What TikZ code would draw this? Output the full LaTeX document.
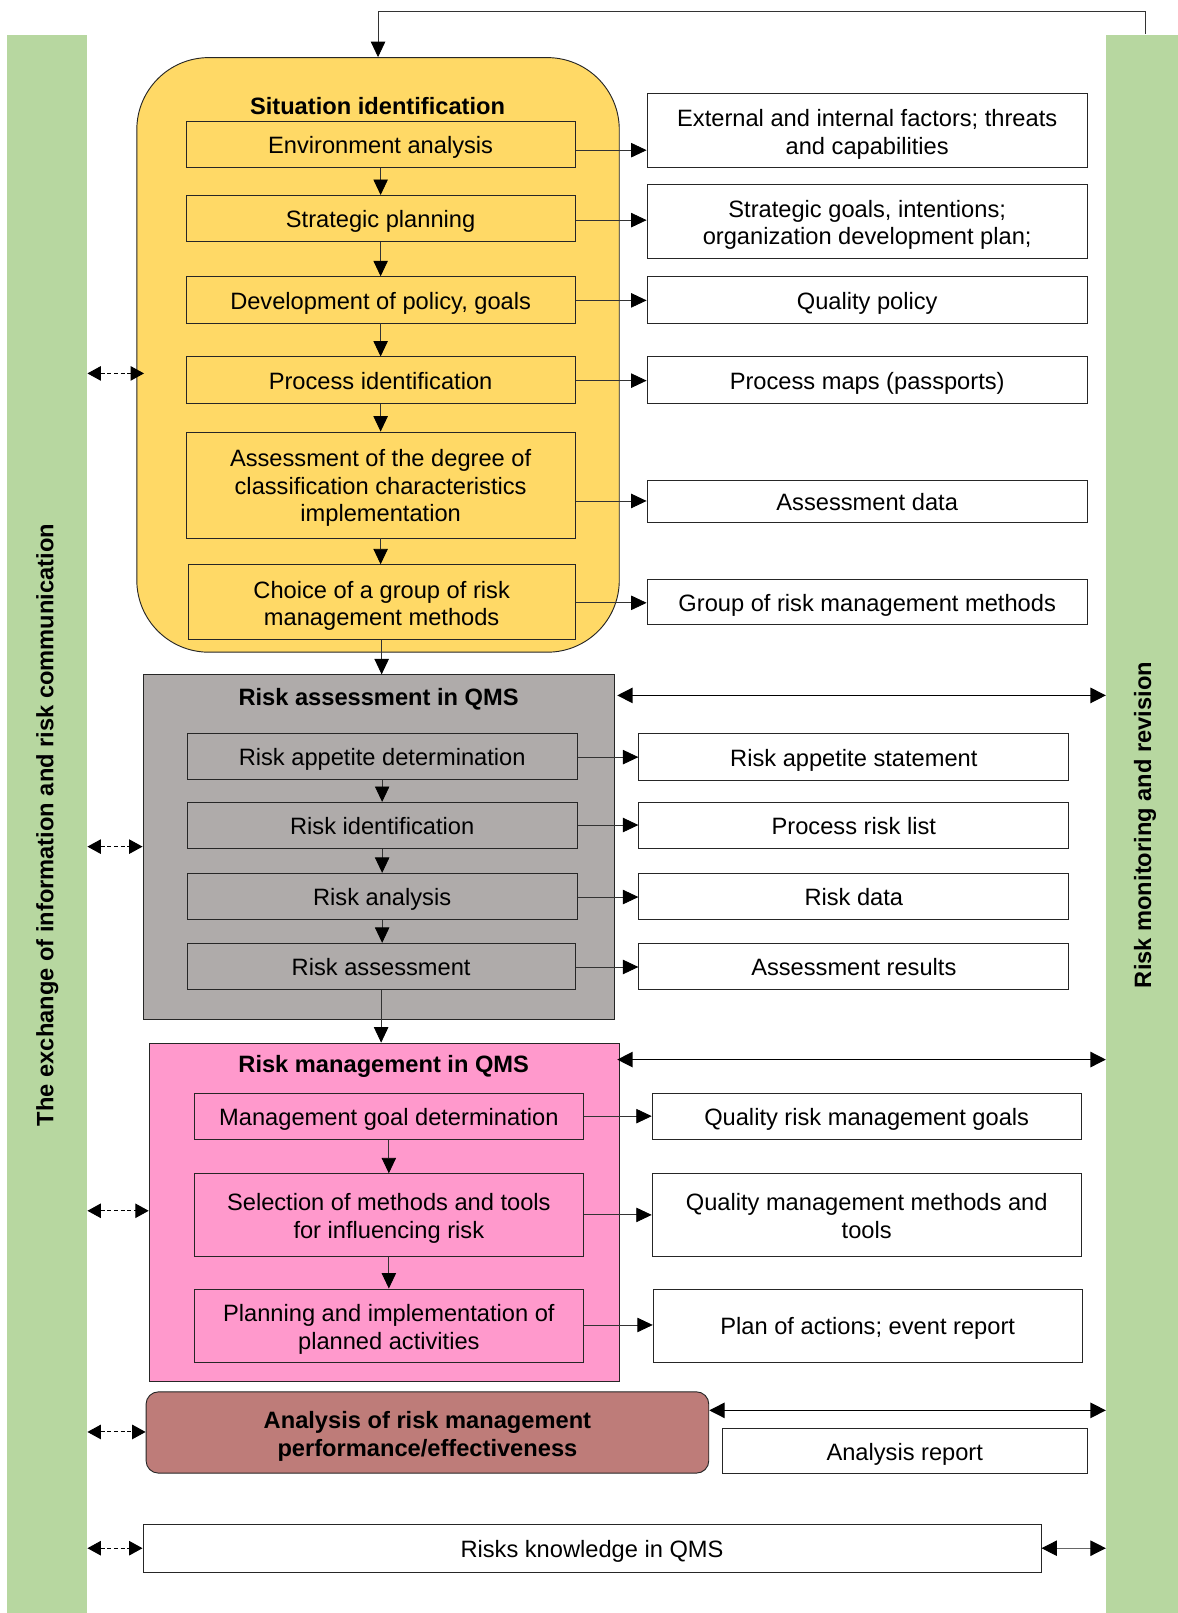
\documentclass[tikz,border=0pt]{standalone}
\usepackage{fontspec}
\setmainfont{Liberation Sans}
\usetikzlibrary{arrows.meta,calc}
\definecolor{ylw}{RGB}{255,217,102}
\definecolor{gry}{RGB}{175,171,170}
\definecolor{pnk}{RGB}{255,153,204}
\definecolor{brn}{RGB}{190,124,121}
\definecolor{grn}{RGB}{183,215,160}
\newcommand\fsz{\fontsize{23}{26.8}\selectfont}
\begin{document}
\begin{tikzpicture}[x=1pt,y=-1pt,font=\fsz,
  box/.style={draw=black!85,line width=0.9pt,rectangle,inner sep=0pt,align=center,font=\fsz,
    execute at begin node={\rule{0pt}{1em}},execute at end node={\rule[-0.22em]{0pt}{0pt}}},
  mltwo/.style={text height=50.8pt,text depth=5pt},
  mlthree/.style={text height=76.6pt,text depth=5pt},
  sz/.style 2 args={minimum width=#1,minimum height=#2},
  ttl/.style={inner sep=0pt,font=\fsz\bfseries},
  arr/.style={line width=0.8pt,draw=black!80,-{Triangle[length=15pt,width=14pt,color=black,fill=black]}},
  darr/.style={line width=1.3pt,{Triangle[length=15pt,width=15pt]}-{Triangle[length=15pt,width=15pt]}},
  dsh/.style={line width=1pt,dash pattern=on 4pt off 2.5pt,{Triangle[length=13pt,width=14pt]}-{Triangle[length=13pt,width=14pt]}},
  bar/.style={fill=grn,rotate=90,inner sep=0pt,font=\fsz\bfseries}]
\useasboundingbox (0,0) rectangle (1145,1568);
\fill[white] (0,0) rectangle (1145,1568);

% side bars
\node[bar,sz={1535}{78}] (lbar) at (46,802) {The exchange of information and risk communication};
\node[bar,sz={1535}{76}] (rbar) at (1113,802) {Risk monitoring and revision};
\coordinate (lbr) at (85,0);
\coordinate (rbl) at (1075,0);
\coordinate (fb) at (1113,33);

% situation identification
\node[box,fill=ylw,rounded corners=70pt,sz={469}{578}] (sit) at (367.5,345) {};
\node[ttl] (sitt) at (367,103) {Situation identification};
\node[box,fill=ylw,sz={378}{45}] (env) at (370,140.5) {Environment analysis};
\node[box,fill=ylw,sz={378}{45}] (strat) at (370,212.5) {Strategic planning};
\node[box,fill=ylw,sz={378}{45}] (dev) at (370,291.5) {Development of policy, goals};
\node[box,fill=ylw,sz={378}{45}] (proc) at (370,369.5) {Process identification};
\node[box,mlthree,fill=ylw,sz={378}{103}] (asd) at (370,471.5) {Assessment of the degree of\\classification characteristics\\implementation};
\node[box,mltwo,fill=ylw,sz={376}{73}] (choice) at (371,585.5) {Choice of a group of risk\\management methods};

\node[box,mltwo,fill=white,sz={428}{72}] (ext) at (843,127) {External and internal factors; threats\\and capabilities};
\node[box,mltwo,fill=white,sz={428}{72}] (sgoal) at (843,215) {Strategic goals, intentions;\\organization development plan;};
\node[box,fill=white,sz={428}{45}] (qpol) at (843,291.5) {Quality policy};
\node[box,fill=white,sz={428}{45}] (pmap) at (843,369.5) {Process maps (passports)};
\node[box,fill=white,sz={428}{41}] (adata) at (843,487.5) {Assessment data};
\node[box,fill=white,sz={428}{44}] (grp) at (843,585) {Group of risk management methods};

\draw[arr] (env) -- (strat);
\draw[arr] (strat) -- (dev);
\draw[arr] (dev) -- (proc);
\draw[arr] (proc) -- (asd);
\draw[arr] (asd.south) -- (asd.south |- choice.north);
\draw[arr] (env.east |- 0,146) -- (ext.west |- 0,146);
\draw[arr] (strat.east |- 0,214) -- (sgoal.west |- 0,214);
\draw[arr] (dev.east |- 0,292) -- (qpol.west |- 0,292);
\draw[arr] (proc.east |- 0,370) -- (pmap.west |- 0,370);
\draw[arr] (asd.east |- 0,487) -- (adata.west |- 0,487);
\draw[arr] (choice.east |- 0,586) -- (grp.west |- 0,586);

% feedback loop
\draw[arr] (fb) -- ++(0,-22) -| (sit.north);

% risk assessment
\node[box,fill=gry,sz={458}{335}] (ra) at (368,823.5) {};
\node[ttl] (rat) at (368,680) {Risk assessment in QMS};
\node[box,fill=gry,sz={379}{45}] (rad) at (371.5,735.5) {Risk appetite determination};
\node[box,fill=gry,sz={379}{45}] (rid) at (371.5,802.5) {Risk identification};
\node[box,fill=gry,sz={379}{45}] (ran) at (371.5,871.5) {Risk analysis};
\node[box,fill=gry,sz={377}{45}] (ras) at (370.5,939.5) {Risk assessment};

\node[box,fill=white,sz={418}{46}] (ras1) at (830,736) {Risk appetite statement};
\node[box,fill=white,sz={418}{45}] (prl) at (830,802.5) {Process risk list};
\node[box,fill=white,sz={418}{45}] (rdat) at (830,871.5) {Risk data};
\node[box,fill=white,sz={418}{45}] (ares) at (830,939.5) {Assessment results};

\draw[arr] (choice.south) -- (choice.south |- ra.north);
\draw[arr] (rad) -- (rid);
\draw[arr] (rid) -- (ran);
\draw[arr] (ran.south) -- (ran.south |- ras.north);
\draw[arr] (rad.east |- 0,736) -- (ras1.west |- 0,736);
\draw[arr] (rid.east |- 0,802) -- (prl.west |- 0,802);
\draw[arr] (ran.east |- 0,872) -- (rdat.west |- 0,872);
\draw[arr] (ras.east |- 0,940) -- (ares.west |- 0,940);
\draw[darr] (600,676) -- (rbl |- 0,676);

% risk management
\node[box,fill=pnk,sz={457}{329}] (rm) at (373.5,1178.5) {};
\node[ttl] (rmt) at (373,1037) {Risk management in QMS};
\node[box,fill=pnk,sz={378}{45}] (mgd) at (378,1085.5) {Management goal determination};
\node[box,mltwo,fill=pnk,sz={378}{80}] (sel) at (378,1181) {Selection of methods and tools\\for influencing risk};
\node[box,mltwo,fill=pnk,sz={378}{71}] (plan) at (378,1288.5) {Planning and implementation of\\planned activities};

\node[box,fill=white,sz={417}{45}] (qrmg) at (842.5,1085.5) {Quality risk management goals};
\node[box,mltwo,fill=white,sz={417}{80}] (qmmt) at (842.5,1181) {Quality management methods and\\tools};
\node[box,fill=white,sz={417}{71}] (poa) at (843.5,1288.5) {Plan of actions; event report};

\draw[arr] (ras.south) -- (ras.south |- rm.north);
\draw[arr] (mgd) -- (sel);
\draw[arr] (sel) -- (plan);
\draw[arr] (mgd.east |- 0,1085) -- (qrmg.west |- 0,1085);
\draw[arr] (sel.east |- 0,1181) -- (qmmt.west |- 0,1181);
\draw[arr] (plan.east |- 0,1288) -- (poa.west |- 0,1288);
\draw[darr] (600,1030) -- (rbl |- 0,1030);

% analysis
\node[box,mltwo,fill=brn,rounded corners=12pt,sz={547}{79},font=\fsz\bfseries] (anl) at (415.5,1392.5) {Analysis of risk management\\performance/effectiveness};
\node[box,fill=white,sz={355}{43}] (arep) at (879.5,1410.5) {Analysis report};
\draw[darr] (anl.east |- 0,1371) -- (rbl |- 0,1371);

% knowledge
\node[box,fill=white,sz={873}{47}] (rk) at (575.5,1505.5) {Risks knowledge in QMS};
\draw[line width=1pt,draw=black!60,{Triangle[length=15pt,width=15pt,color=black,fill=black]}-{Triangle[length=15pt,width=15pt,color=black,fill=black]}] (rk.east |- 0,1505) -- (rbl |- 0,1505);

% dashed communication arrows
\draw[dsh] (lbr |- 0,363) -- (140,363);
\draw[dsh] (lbr |- 0,823) -- (ra.west |- 0,823);
\draw[dsh] (lbr |- 0,1177) -- (rm.west |- 0,1177);
\draw[dsh] (lbr |- 0,1392) -- (anl.west |- 0,1392);
\draw[dsh] (lbr |- 0,1505) -- (rk.west |- 0,1505);
\end{tikzpicture}
\end{document}
